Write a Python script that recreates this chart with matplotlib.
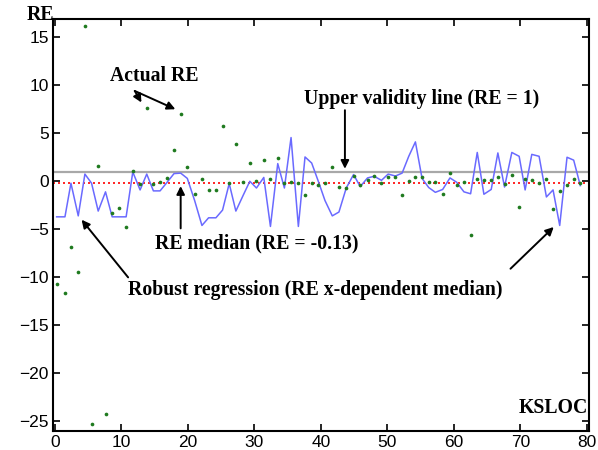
import numpy as np
import matplotlib
matplotlib.use("Agg")
from matplotlib import pyplot as plt

# KSLOC positions of the projects
ksloc = [0.25, 1.5, 2.4, 3.5, 4.5, 5.5, 6.5, 7.6, 8.6, 9.6, 10.7, 11.7, 12.8, 13.8,
         14.8, 15.8, 16.9, 17.9, 18.9, 19.9, 21.0, 22.1, 23.1, 24.2, 25.2, 26.2,
         27.2, 28.3, 29.3, 30.3, 31.4, 32.4, 33.5, 34.5, 35.5, 36.6, 37.6, 38.6,
         39.6, 40.6, 41.7, 42.7, 43.8, 44.9, 45.9, 47.0, 48.0, 49.1, 50.1, 51.2,
         52.2, 53.2, 54.2, 55.2, 56.2, 57.2, 58.3, 59.4, 60.4, 61.5, 62.5, 63.5,
         64.5, 65.6, 66.6, 67.6, 68.7, 69.8, 70.7, 71.7, 72.8, 73.9, 74.9, 75.9,
         77.0, 78.0, 79.0]

# actual relative error
actualRE = [-10.7, -11.6, -6.8, -9.4, 16.2, -25.3, 1.56, -24.2, -3.3, -2.8, -4.8, 1.05,
            -0.25, 7.6, -0.25, -0.1, 0.3, 3.3, 7.05, 1.45, -1.35, 0.2, -0.87, -0.87,
            5.8, -0.2, 3.9, -0.1, 1.9, 0.0, 2.2, 0.28, 2.45, -0.14, -0.07, -0.14,
            -1.46, -0.14, -0.42, -0.17, 1.45, -0.59, -0.66, 0.52, -0.42, 0.1, 0.52,
            -0.14, 0.45, 0.45, -1.46, 0.03, 0.45, 0.45, -0.07, -0.07, -1.28, 0.9,
            -0.42, -0.07, -5.55, 0.28, 0.1, 0.17, 0.45, -0.24, 0.7, -2.67, 0.28,
            0.17, -0.17, 0.28, -2.85, -1.0, -0.42, 0.28, -0.14]

# robust regression (x-dependent median)
robustRE = [-3.7, -3.7, -0.2, -3.6, 0.75, -0.2, -3.1, -1.1, -3.7, -3.7, -3.7, 0.97,
            -0.9, 0.75, -1.0, -1.0, -0.07, 0.8, 0.85, 0.3, -2.0, -4.6, -3.8, -3.8,
            -3.0, -0.24, -3.1, -1.46, 0.0, -0.7, 0.4, -4.7, 1.84, -0.7, 4.55, -4.7,
            2.53, 1.9, 0.0, -2.0, -3.6, -3.2, -0.7, 0.7, -0.55, 0.35, 0.52, 0.1,
            0.75, 0.55, 0.85, 2.6, 4.1, 0.3, -0.65, -1.15, -0.85, 0.35, -0.1, -1.1,
            -1.3, 3.0, -1.35, -0.85, 2.95, -0.6, 3.0, 2.6, -0.9, 2.8, 2.6, -1.63,
            -0.9, -4.6, 2.5, 2.2, -0.45]

upperValidity = 1.0
medianRE = -0.13

serif = dict(family="Liberation Serif", fontweight="bold", fontsize=14.2)
arrow = dict(arrowstyle="-|>", color="black", lw=1.4, mutation_scale=12,
             shrinkA=0, shrinkB=0)

fig = plt.figure(figsize=(5.98, 4.5), dpi=100)
ax = fig.add_axes([0.0886, 0.042, 0.8963, 0.916])

ax.axhline(upperValidity, color="#a8a8a8", lw=1.6, zorder=1)
ax.axhline(medianRE, color="red", lw=1.2, ls=(0, (1.2, 1.8)), zorder=2)
ax.plot(ksloc, robustRE, color="#6a6aff", lw=1.1, zorder=3)
ax.scatter(ksloc, actualRE, s=7, color="#1f7a1f", zorder=4, linewidths=0)

ax.set_xlim(-0.3, 80.3)
ax.set_ylim(-26.0, 16.9)
ax.set_xticks(np.arange(0, 81, 10))
ax.set_yticks(np.arange(-25, 16, 5))
ax.tick_params(direction="in", top=True, right=True, length=5, width=1.2,
               labelsize=12.5, pad=3)
for lab in ax.get_xticklabels() + ax.get_yticklabels():
    lab.set_family("Liberation Sans")
for s in ax.spines.values():
    s.set_linewidth(1.5)

# annotations
ax.text(15.0, 11.0, "Actual RE", ha="center", va="center", **serif)
ax.annotate("", xy=(13.0, 8.2), xytext=(12.0, 9.4), arrowprops=arrow)
ax.annotate("", xy=(18.1, 7.5), xytext=(12.0, 9.4), arrowprops=arrow)

ax.text(55.2, 8.6, "Upper validity line (RE = 1)", ha="center", va="center", **serif)
ax.annotate("", xy=(43.6, 1.3), xytext=(43.6, 7.4), arrowprops=arrow)

ax.text(30.3, -6.5, "RE median (RE = -0.13)", ha="center", va="center", **serif)
ax.annotate("", xy=(18.9, -0.5), xytext=(18.9, -4.9), arrowprops=arrow)

ax.text(39.2, -11.35, "Robust regression (RE x-dependent median)", ha="center",
        va="center", **serif)
ax.annotate("", xy=(4.0, -4.0), xytext=(11.0, -10.0), arrowprops=arrow)
ax.annotate("", xy=(75.0, -4.76), xytext=(68.5, -9.1), arrowprops=arrow)

ax.text(75.0, -23.6, "KSLOC", ha="center", va="center", **serif)
fig.text(40 / 598, 1 - 15 / 450, "RE", ha="center", va="center", **serif)

fig.savefig("out.png", dpi=100)
